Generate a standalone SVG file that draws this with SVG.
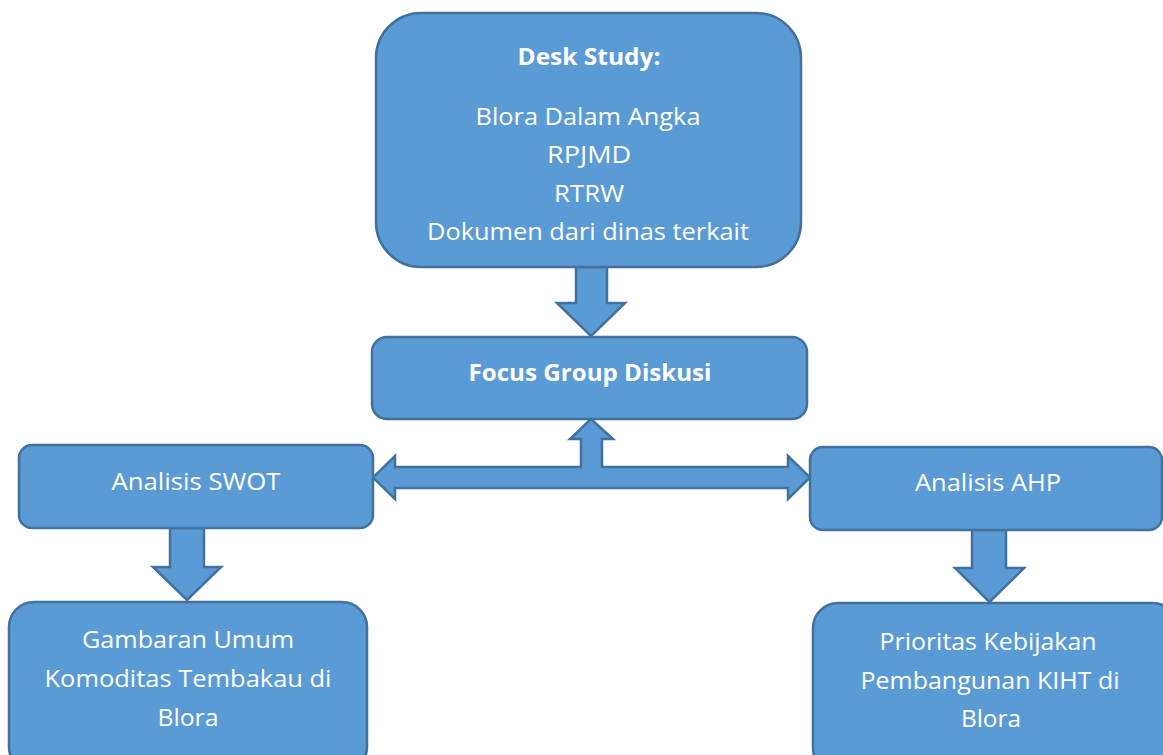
<svg xmlns="http://www.w3.org/2000/svg" width="1163" height="755" viewBox="0 0 1163 755">
<style>
.box{fill:#5b9bd5;stroke:#41719c;stroke-width:2.5}
.arr{fill:#5b9bd5;stroke:#41719c;stroke-width:2.5;stroke-linejoin:miter}
text{font-family:"Open Sans","Noto Sans","Liberation Sans",sans-serif;font-size:24px;fill:#ffffff;text-anchor:middle}
.b{font-weight:bold}
</style>
<rect width="1163" height="755" fill="#ffffff"/>
<g id="connectors">
<polygon class="arr" points="576,267 607,267 607,303 625,303 591,336 557,303 576,303"/>
<polygon class="arr" points="591,419 613,439 602,439 602,467 788,467 788,456 810,477.5 788,499 788,488 395,488 395,499 373,477.5 395,456 395,467 581,467 581,439 570,439"/>
<polygon class="arr" points="170,528 204,528 204,567 221,567 187,600 153,567 170,567"/>
<polygon class="arr" points="972,530 1006,530 1006,568 1024,568 989.5,602 955,568 972,568"/>
</g>
<g id="desk-study">
<rect class="box" x="376" y="13" width="425" height="254" rx="45"/>
<text class="b" x="589" y="65" textLength="143" lengthAdjust="spacingAndGlyphs">Desk Study:</text>
<text x="588" y="125" textLength="225" lengthAdjust="spacingAndGlyphs">Blora Dalam Angka</text>
<text x="589" y="163" textLength="84" lengthAdjust="spacingAndGlyphs">RPJMD</text>
<text x="589" y="202" textLength="70" lengthAdjust="spacingAndGlyphs">RTRW</text>
<text x="588" y="240" textLength="322" lengthAdjust="spacingAndGlyphs">Dokumen dari dinas terkait</text>
</g>
<g id="fgd">
<rect class="box" x="372" y="337" width="435" height="82" rx="15"/>
<text class="b" x="590" y="381" textLength="243" lengthAdjust="spacingAndGlyphs">Focus Group Diskusi</text>
</g>
<g id="swot">
<rect class="box" x="19" y="445" width="354" height="83" rx="13"/>
<text x="196" y="490" textLength="169" lengthAdjust="spacingAndGlyphs">Analisis SWOT</text>
</g>
<g id="ahp">
<rect class="box" x="810" y="447" width="352" height="83" rx="13"/>
<text x="988" y="491" textLength="146" lengthAdjust="spacingAndGlyphs">Analisis AHP</text>
</g>
<g id="gambaran">
<rect class="box" x="9" y="602" width="358" height="170" rx="25"/>
<text x="188" y="648" textLength="212" lengthAdjust="spacingAndGlyphs">Gambaran Umum</text>
<text x="188" y="687" textLength="287" lengthAdjust="spacingAndGlyphs">Komoditas Tembakau di</text>
<text x="188" y="726" textLength="61" lengthAdjust="spacingAndGlyphs">Blora</text>
</g>
<g id="prioritas">
<rect class="box" x="813" y="603" width="365" height="170" rx="25"/>
<text x="988" y="650" textLength="217" lengthAdjust="spacingAndGlyphs">Prioritas Kebijakan</text>
<text x="990" y="689" textLength="259" lengthAdjust="spacingAndGlyphs">Pembangunan KIHT di</text>
<text x="991" y="727" textLength="60" lengthAdjust="spacingAndGlyphs">Blora</text>
</g>
</svg>
